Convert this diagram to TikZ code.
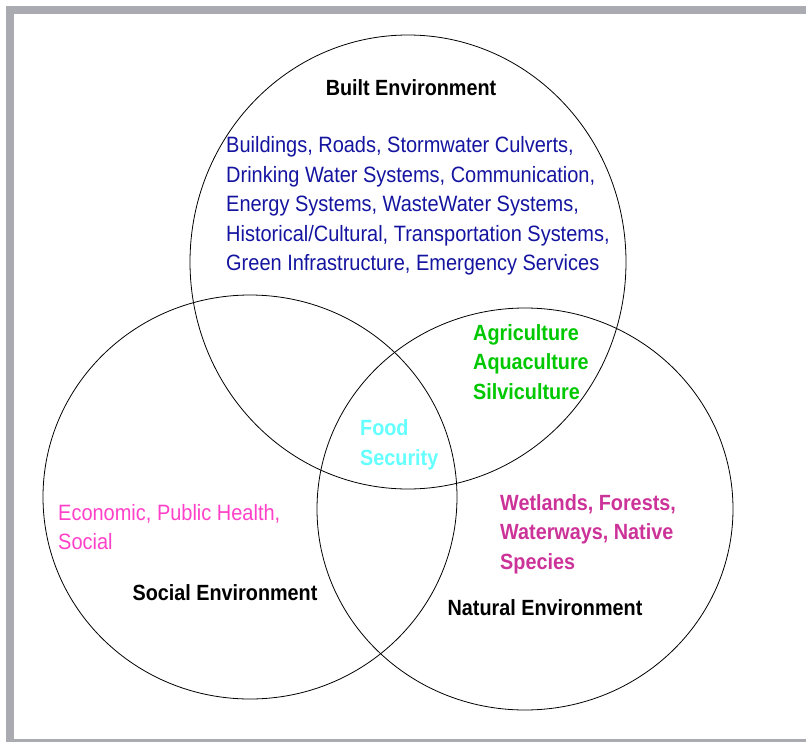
\documentclass[tikz,border=0pt]{standalone}
\usepackage{fontspec}
\setmainfont[FakeStretch=0.9]{Liberation Sans}
\usepackage{tikz}
\usetikzlibrary{calc}

\definecolor{framegray}{RGB}{170,171,176}
\definecolor{builtblue}{RGB}{20,20,160}
\definecolor{agrigreen}{RGB}{0,200,0}
\definecolor{foodcyan}{RGB}{100,255,255}
\definecolor{socialpink}{RGB}{255,64,200}
\definecolor{naturalpink}{RGB}{204,51,153}

\begin{document}
\begin{tikzpicture}[x=1pt,y=-1pt,line cap=round,line join=round,
  lbl/.style={inner sep=0pt,font=\fontsize{22}{29.5}\selectfont\bfseries},
  txt/.style={inner sep=0pt,align=left,font=\fontsize{22.2}{29.5}\selectfont},
  btxt/.style={inner sep=0pt,align=left,font=\fontsize{22}{29.5}\selectfont\bfseries}]
\useasboundingbox (0,0) rectangle (806,742);
%frame
\fill[framegray] (6,6) rectangle (806,14);
\fill[framegray] (6,6) rectangle (14,742);
\fill[framegray] (6,739) rectangle (806,742);
%circles
\draw[line width=0.8pt] (408,262) ellipse [x radius=218,y radius=227];
\draw[line width=0.8pt] (250,497) ellipse [x radius=207,y radius=202];
\draw[line width=0.8pt] (525,509) ellipse [x radius=208,y radius=201];
%labels
\node[lbl] (built) at (411,88) {Built Environment};
\node[lbl] (social) at (225,593) {Social Environment};
\node[lbl] (natural) at (545,608) {Natural Environment};
%contents
\node[txt,text=builtblue,anchor=west] (infra) at (226,206) {Buildings, Roads, Stormwater Culverts,\\Drinking Water Systems, Communication,\\Energy Systems, WasteWater Systems,\\Historical/Cultural, Transportation Systems,\\Green Infrastructure, Emergency Services};
\node[btxt,text=agrigreen,anchor=west] (agri) at (473,362) {Agriculture\\Aquaculture\\Silviculture};
\node[btxt,text=foodcyan,anchor=west] (food) at (360,445) {Food\\Security};
\node[txt,text=socialpink,anchor=west] (econ) at (58,527) {Economic, Public Health,\\Social};
\node[btxt,text=naturalpink,anchor=west] (wet) at (500,534) {Wetlands, Forests,\\Waterways, Native\\Species};
\end{tikzpicture}
\end{document}
